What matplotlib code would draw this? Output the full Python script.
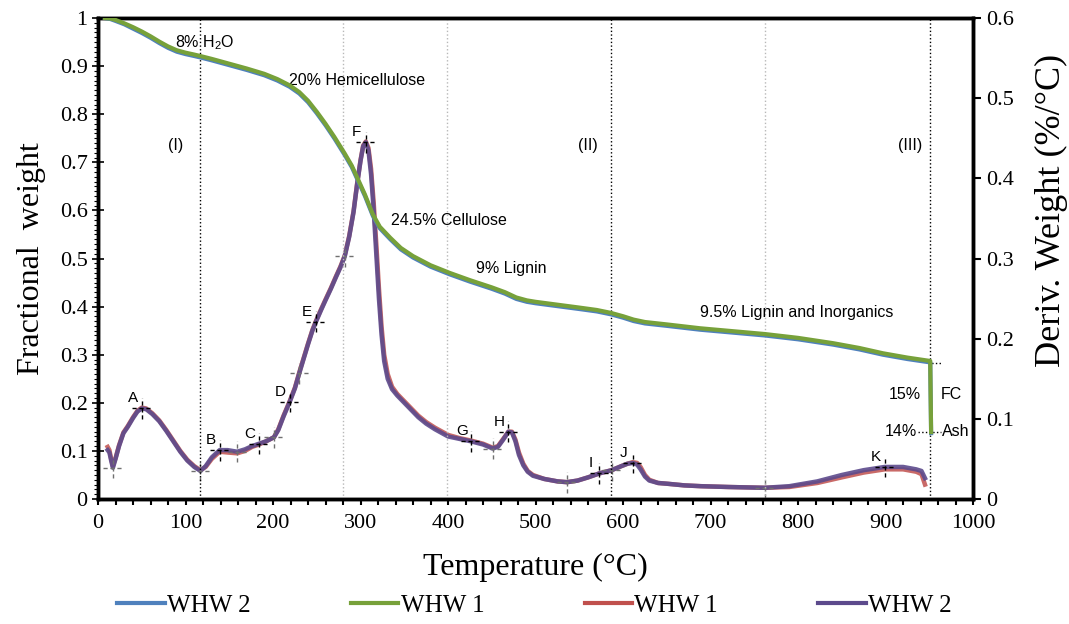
import matplotlib
matplotlib.use("Agg")
import matplotlib.pyplot as plt
from matplotlib.ticker import MultipleLocator, FuncFormatter
from matplotlib.lines import Line2D

# ---------- TGA (fractional weight) ----------
tga_temp = [8, 14, 20, 30, 40, 50, 60, 70, 80, 90, 100, 110, 117, 130, 150,
            170, 190, 205, 219, 230, 240, 250, 260, 270, 282, 290, 297, 305,
            314, 322, 334, 346, 360, 380, 402, 425, 450, 465, 478, 490, 500,
            525, 550, 570, 586, 600, 612, 625, 650, 688, 725, 762, 800, 840,
            870, 897, 925, 951, 952]
tga_whw1 = [1.000, 0.999, 0.996, 0.989, 0.981, 0.972, 0.962, 0.951, 0.941,
            0.933, 0.928, 0.924, 0.921, 0.915, 0.905, 0.895, 0.884, 0.873,
            0.860, 0.846, 0.828, 0.805, 0.780, 0.753, 0.718, 0.693, 0.665,
            0.633, 0.592, 0.566, 0.543, 0.522, 0.505, 0.486, 0.470, 0.455,
            0.440, 0.430, 0.419, 0.413, 0.410, 0.404, 0.398, 0.393, 0.387,
            0.380, 0.373, 0.368, 0.363, 0.355, 0.349, 0.343, 0.335, 0.324,
            0.314, 0.303, 0.294, 0.287, 0.139]
tga_whw2 = [1.000, 0.998, 0.994, 0.987, 0.978, 0.969, 0.959, 0.948, 0.938,
            0.930, 0.925, 0.921, 0.918, 0.912, 0.902, 0.892, 0.881, 0.870,
            0.857, 0.843, 0.825, 0.802, 0.777, 0.750, 0.715, 0.690, 0.662,
            0.630, 0.589, 0.563, 0.540, 0.519, 0.502, 0.483, 0.467, 0.452,
            0.437, 0.427, 0.416, 0.410, 0.407, 0.401, 0.395, 0.390, 0.384,
            0.377, 0.370, 0.365, 0.360, 0.352, 0.346, 0.340, 0.332, 0.321,
            0.311, 0.300, 0.291, 0.284, 0.137]

# ---------- DTG (%/°C) ----------
dtg_temp = [11, 13, 15, 17, 20, 24, 29, 34, 40, 45, 50, 55, 62, 70, 78, 86,
            94, 102, 110, 117, 123, 130, 139, 148, 159, 168, 176, 184, 192,
            201, 206, 212, 219, 225, 230, 235, 240, 245, 249, 255, 260, 266,
            272, 277, 282, 287, 292, 296, 300, 303, 306, 309, 312, 315, 318,
            321, 324, 327, 331, 336, 342, 350, 358, 366, 375, 385, 400, 413,
            426, 440, 451, 457, 463, 469, 473, 477, 481, 486, 491, 497, 510,
            525, 536, 548, 560, 573, 587, 598, 605, 611, 616, 620, 625, 630,
            640, 651, 670, 689, 720, 762, 790, 822, 850, 875, 899, 920, 935,
            941, 945]
dtg_whw2 = [0.061, 0.058, 0.048, 0.039, 0.050, 0.066, 0.082, 0.090, 0.101,
            0.109, 0.113, 0.112, 0.106, 0.097, 0.085, 0.072, 0.059, 0.048,
            0.040, 0.035, 0.041, 0.052, 0.061, 0.061, 0.059, 0.062, 0.066,
            0.069, 0.072, 0.077, 0.086, 0.103, 0.121, 0.138, 0.157, 0.175,
            0.193, 0.210, 0.221, 0.236, 0.248, 0.262, 0.277, 0.289, 0.303,
            0.327, 0.358, 0.392, 0.422, 0.440, 0.445, 0.435, 0.405, 0.360,
            0.305, 0.250, 0.205, 0.172, 0.150, 0.137, 0.129, 0.120, 0.111,
            0.102, 0.094, 0.087, 0.078, 0.075, 0.072, 0.068, 0.063, 0.065,
            0.074, 0.084, 0.083, 0.072, 0.055, 0.042, 0.034, 0.029, 0.025,
            0.022, 0.021, 0.023, 0.027, 0.032, 0.036, 0.041, 0.044, 0.045,
            0.043, 0.037, 0.028, 0.023, 0.020, 0.019, 0.017, 0.016, 0.015,
            0.014, 0.016, 0.022, 0.030, 0.036, 0.040, 0.040, 0.037, 0.035,
            0.026]
dtg_whw1 = [0.065, 0.061, 0.050, 0.041, 0.051, 0.067, 0.083, 0.091, 0.102,
            0.110, 0.114, 0.113, 0.107, 0.098, 0.086, 0.073, 0.060, 0.049,
            0.041, 0.036, 0.040, 0.050, 0.059, 0.058, 0.057, 0.060, 0.065,
            0.068, 0.072, 0.077, 0.087, 0.104, 0.122, 0.139, 0.158, 0.176,
            0.194, 0.211, 0.222, 0.237, 0.249, 0.263, 0.278, 0.290, 0.304,
            0.328, 0.359, 0.393, 0.423, 0.441, 0.446, 0.438, 0.412, 0.370,
            0.318, 0.263, 0.215, 0.180, 0.156, 0.140, 0.131, 0.122, 0.113,
            0.104, 0.096, 0.089, 0.080, 0.076, 0.073, 0.069, 0.064, 0.066,
            0.075, 0.084, 0.084, 0.074, 0.058, 0.044, 0.035, 0.030, 0.025,
            0.022, 0.021, 0.023, 0.027, 0.032, 0.036, 0.041, 0.044, 0.046,
            0.045, 0.040, 0.030, 0.024, 0.020, 0.019, 0.017, 0.016, 0.015,
            0.014, 0.015, 0.020, 0.027, 0.033, 0.037, 0.037, 0.034, 0.031,
            0.018]

# labelled peaks / shoulders and other marked points on the DTG curve
peak_names = ["A", "B", "C", "D", "E", "F", "G", "H", "I", "J", "K"]
peak_temp = [50, 139, 184, 219, 249, 306, 426, 469, 573, 611, 899]
peak_dtg = [0.113, 0.061, 0.069, 0.121, 0.221, 0.445, 0.072, 0.084, 0.032, 0.045, 0.040]
mark_temp = [17, 117, 159, 201, 230, 282, 451, 536, 587, 762]
mark_dtg = [0.039, 0.035, 0.059, 0.077, 0.157, 0.303, 0.063, 0.021, 0.036, 0.014]

# stage boundaries
stage_black = [117, 586, 951]
stage_gray = [280, 399, 762]

C_BLUE = "#4f81bd"
C_GREEN = "#77a13a"
C_RED = "#c0504d"
C_PURPLE = "#5c4a8c"

SERIF = "Liberation Serif"
SANS = "Liberation Sans"
plt.rcParams["font.family"] = SERIF
plt.rcParams["mathtext.fontset"] = "custom"
plt.rcParams["mathtext.rm"] = SANS
plt.rcParams["lines.solid_joinstyle"] = "round"

fig = plt.figure(figsize=(10.69, 6.24), dpi=100)
ax = fig.add_axes([0.0917, 0.2003, 0.8186, 0.7708])
ax2 = ax.twinx()

for t in stage_black:
    ax.axvline(t, color="black", linestyle=":", linewidth=1.0, zorder=1)
for t in stage_gray:
    ax.axvline(t, color="#b8b8b8", linestyle=":", linewidth=1.0, zorder=1)

# DTG curves on right axis
ax2.plot(dtg_temp, dtg_whw1, color=C_RED, linewidth=3.2, alpha=0.85, zorder=2)
ax2.plot(dtg_temp, dtg_whw2, color=C_PURPLE, linewidth=3.2, alpha=0.9, zorder=3)

# TGA curves on left axis
ax.plot(tga_temp, tga_whw2, color=C_BLUE, linewidth=3.0, zorder=4)
ax.plot(tga_temp, tga_whw1, color=C_GREEN, linewidth=3.0, zorder=5)
ax.set_zorder(ax2.get_zorder() + 1)
ax.patch.set_visible(False)


def cross(a, t, v, color):
    dx, dy = 11, 0.013
    a.plot([t - dx, t + dx], [v, v], color=color, lw=1.0, ls=(0, (3, 2)), zorder=6)
    a.plot([t, t], [v - dy, v + dy], color=color, lw=1.0, ls=(0, (3, 2)), zorder=6)


for t, v in zip(mark_temp, mark_dtg):
    cross(ax2, t, v, "#707070")
for name, t, v in zip(peak_names, peak_temp, peak_dtg):
    cross(ax2, t, v, "black")
    ax2.annotate(name, (t, v), xytext=(-9, 10), textcoords="offset pixels",
                 ha="center", va="center", fontsize=11, family=SANS)

# composition notes
note = dict(fontsize=11.5, family=SANS, va="center")
ax.text(88, 0.948, "8% H$_2$O", ha="left", **note)
ax.text(218, 0.871, "20% Hemicellulose", ha="left", **note)
ax.text(335, 0.580, "24.5% Cellulose", ha="left", **note)
ax.text(432, 0.480, "9% Lignin", ha="left", **note)
ax.text(688, 0.387, "9.5% Lignin and Inorganics", ha="left", **note)
ax.text(89, 0.736, "(I)", ha="center", **note)
ax.text(560, 0.736, "(II)", ha="center", **note)
ax.text(928, 0.736, "(III)", ha="center", **note)
ax.text(940, 0.218, "15%", ha="right", **note)
ax.text(963, 0.218, "FC", ha="left", **note)
ax.text(936, 0.141, "14%", ha="right", **note)
ax.text(964, 0.141, "Ash", ha="left", **note)
ax.plot([948, 963], [0.282, 0.282], color="black", ls=":", lw=1.0)
ax.plot([937, 963], [0.139, 0.139], color="black", ls=":", lw=1.0)

# axes
ax.set_xlim(0, 1000)
ax.set_ylim(0, 1)
ax2.set_ylim(0, 0.6)
ax.xaxis.set_major_locator(MultipleLocator(100))
ax.xaxis.set_minor_locator(MultipleLocator(20))
ax.yaxis.set_major_locator(MultipleLocator(0.1))
ax.yaxis.set_minor_locator(MultipleLocator(0.01))
ax2.yaxis.set_major_locator(MultipleLocator(0.1))
fmt = FuncFormatter(lambda v, p: f"{v:g}")
ax.yaxis.set_major_formatter(fmt)
ax2.yaxis.set_major_formatter(fmt)

for a in (ax, ax2):
    for s in a.spines.values():
        s.set_linewidth(2.5)
ax.tick_params(axis="x", which="both", direction="out", length=4, width=1.5,
               labelsize=16, pad=7)
ax.tick_params(axis="y", which="major", direction="inout", length=8, width=1.2,
               labelsize=16)
ax.tick_params(axis="y", which="minor", direction="out", length=3, width=0.8)
ax2.tick_params(axis="y", which="major", direction="out", length=6, width=1.5,
                labelsize=16)

ax.set_xlabel("Temperature (°C)", fontsize=23, labelpad=14)
ax.set_ylabel("Fractional  weight", fontsize=23, labelpad=10)
ax2.set_ylabel("Deriv. Weight (%/°C)", fontsize=26)
ax2.yaxis.set_label_coords(1.071, 0.6)

handles = [Line2D([], [], color=c, lw=3) for c in (C_BLUE, C_GREEN, C_RED, C_PURPLE)]
fig.legend(handles, ["WHW 2", "WHW 1", "WHW 1", "WHW 2"], loc="lower center",
           bbox_to_anchor=(0.5, -0.025), ncol=4, frameon=False, fontsize=18,
           handlelength=1.9, handletextpad=0.1, columnspacing=4.0)

fig.savefig("out.png", dpi=100)
